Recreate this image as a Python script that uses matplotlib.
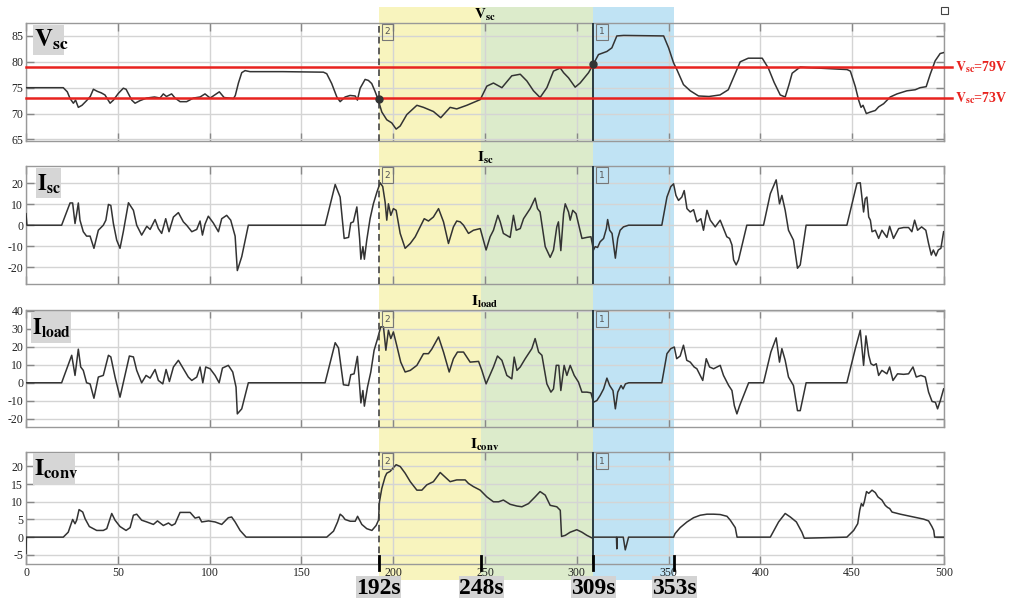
import numpy as np
import matplotlib
matplotlib.use('Agg')
import matplotlib.pyplot as plt
from matplotlib.patches import Rectangle
from matplotlib import transforms

plt.rcParams['font.family'] = ['Liberation Serif', 'DejaVu Serif']
plt.rcParams['mathtext.fontset'] = 'stix'
plt.rcParams['axes.unicode_minus'] = False

# ---------------- data (time in s) ----------------
vsc_t = [0, 20.3, 22.5, 24, 25.8, 27, 28.5, 30.5, 33, 35, 36.7, 38.8, 41, 43, 45.8, 47.6, 50.3, 53, 54.5,
         57.6, 59.4, 62.1, 65.7, 70, 73, 74.8, 76.5, 79.3, 81.2, 83.9, 87.5, 91.2, 94.8, 97.5, 100.3, 105.3,
         107.9, 113, 114, 115.7, 117.5, 119.3, 122, 140, 162, 163.8, 166.5, 169.3, 171.1, 173.8, 176.5,
         179.3, 180.5, 182, 184.7, 186.5, 188.3, 190.1, 191.6, 193.8, 196.5, 199.2, 201.6, 203.8, 207.4,
         212.9, 216.5, 221.9, 225.9, 231, 234.6, 240.1, 247.4, 251, 254.6, 259.2, 264.6, 269.2, 272.8,
         276.4, 280, 283.7, 287.3, 291, 292.8, 295.5, 299.1, 301.8, 306.4, 309.1, 311.8, 316.4, 319.1,
         321.8, 325.5, 347.3, 350, 352.7, 354.5, 358.1, 361.8, 366.3, 372, 378, 382.5, 386, 389, 393.4,
         401, 404.3, 407.5, 410.8, 413.5, 415.5, 417.3, 421.7, 425.4, 447.2, 449, 451.7, 453.5, 454.8,
         455.9, 457.7, 459.9, 462.6, 464.4, 467.1, 470.7, 474.4, 479.8, 484.3, 487, 490.3, 492.5, 495.2,
         497.9, 500]
vsc_v = [75.0, 75.0, 74.2, 72.9, 72.0, 72.6, 71.2, 71.6, 72.5, 73.3, 74.7, 74.3, 74.0, 73.6, 72.0, 72.6,
         73.9, 74.9, 74.7, 72.6, 72.0, 72.5, 73.0, 73.2, 73.0, 73.8, 73.3, 73.8, 73.0, 72.3, 72.3, 73.0,
         73.2, 73.8, 73.0, 74.2, 73.1, 72.9, 73.5, 75.9, 77.9, 78.3, 78.1, 78.1, 78.0, 77.7, 75.8, 73.2,
         72.3, 73.2, 73.5, 73.4, 72.6, 74.9, 76.6, 76.4, 75.8, 74.3, 72.9, 70.3, 68.8, 68.2, 67.0, 67.6,
         69.8, 71.6, 71.2, 70.4, 69.2, 71.2, 70.9, 71.6, 72.7, 75.3, 75.9, 75.0, 77.3, 77.6, 76.3, 74.4,
         73.1, 75.0, 78.2, 78.8, 77.9, 76.9, 75.1, 75.9, 77.9, 79.6, 81.4, 82.0, 82.7, 85.0, 85.1, 85.0,
         82.7, 79.8, 78.5, 75.6, 74.4, 73.4, 73.3, 73.6, 74.6, 77.5, 80.0, 80.7, 80.7, 78.8, 76.0, 73.6,
         73.2, 75.5, 77.8, 79.0, 78.9, 78.5, 78.2, 75.2, 72.6, 71.2, 71.6, 70.0, 70.3, 70.6, 71.3, 71.9,
         73.2, 73.8, 74.4, 74.6, 75.0, 75.2, 77.6, 80.2, 81.6, 81.8]

isc_t = [0, 0.5, 19.4, 24, 25.4, 26.7, 27.6, 28.5, 29.4, 31.2, 33, 34.9, 37, 39.4, 42.1, 43.5, 44.9, 46.2,
         47.6, 49.4, 51.2, 53, 55.8, 58.5, 60.3, 63, 65.8, 67.6, 70.3, 72.1, 73.9, 76.1, 77.9, 80.3, 83,
         85.7, 87.5, 90.3, 93, 94.8, 96.1, 97.5, 99.3, 102, 104.8, 106.6, 109.3, 111.5, 113.9, 115.1, 117.5,
         121.1, 162.9, 168.4, 171.1, 173.3, 175.7, 176.9, 178.3, 180.2, 181.7, 182.4, 183.5, 184.3, 185.6,
         187.4, 189.2, 191.1, 192.9, 194.3, 195.6, 196.5, 197.4, 198.7, 200.1, 201.6, 203.8, 206.5, 209.3,
         212, 214.7, 216.9, 219.2, 221.9, 224.7, 227.4, 230.1, 232.8, 234.6, 236.5, 238.3, 241, 243.7,
         247.4, 250.6, 252.8, 254.6, 257, 258.3, 260, 263.7, 265.5, 267, 269.2, 271, 274.6, 277.3, 278.6,
         280, 282.8, 285.5, 287.3, 289.1, 290, 291.3, 292.8, 293.7, 295.5, 296.4, 297.8, 299.6, 301.5,
         302.8, 305.5, 307.7, 309.1, 310, 311.3, 312.7, 314.6, 316.1, 316.8, 317.9, 319.2, 321, 322.3,
         323.6, 325.4, 328.2, 346.3, 349.1, 351.2, 352.7, 354, 355.4, 357.2, 358.5, 360, 361.8, 363.6,
         365.4, 367.6, 369, 370.9, 372.7, 375.4, 378.1, 379.9, 381.7, 383.2, 384.5, 385.4, 386.8, 388.1,
         392.6, 401.7, 405.4, 408.6, 410.4, 411.7, 413.5, 415.3, 418, 420.2, 421.7, 424.9, 447.1, 452.6,
         454.4, 456.2, 457.1, 458, 459, 459.9, 460.8, 462.6, 464.4, 466.2, 468.9, 470.4, 472.5, 475.3, 478,
         480.7, 482.5, 484, 485.6, 487.8, 490.1, 491.6, 493.1, 494.2, 495.6, 496.9, 498.3, 499.8]
isc_v = [5.5, 0, 0, 10.6, 10.6, 0.8, 5.5, 10.6, 2.4, -3.1, -5.2, -5.2, -11, -2.4, 0, 2.4, 9.9, 9.4, 0.8,
         -7.1, -11, -3.1, 10.7, 7.1, 0, -4.7, -0.5, -2.0, 2.7, -1.6, -3.9, 3.1, -3.1, 3.9, 6.0, 1.6, 0,
         -3.1, -2.0, 2.0, -4.7, 0.5, 4.3, 1.1, -3.1, 3.1, 4.7, 2.4, -5.2, -21.6, -15.0, 0, 0, 19.4, 13.4,
         -6.3, -5.8, 1.1, 1.6, 8.7, -6.3, -16.2, -10.2, -16.2, -7.1, 3.1, 10.2, 15.7, 20.2, 18.4, 11,
         2.4, 10.2, 4.7, 7.9, 7.1, -3.9, -11, -8.7, -5.5, -0.8, 3.1, 2.0, 3.9, 7.9, 1.6, -8.7, -0.8, 2.0,
         1.6, 0, -3.9, -2.4, -1.6, -11.8, -5.5, -2.4, 4.7, 1.6, -3.9, -5.8, 4.7, -2.4, -1.6, 3.1, 7.9,
         12.9, 7.9, 6.3, -10.2, -15.3, -11.8, -0.8, 1.6, -12.1, 5.5, 10.2, 6.3, 2.4, 7.1, 5.5, -1.6, -6.3,
         -5.8, -5.5, -11.8, -10.2, -10.6, -7.9, -6.3, -1.6, 2.7, -2.4, -3.9, -15.7, -6.3, -2.4, -0.8, 0, 0,
         13.4, 18.4, 19.7, 14.2, 11.8, 13.4, 16.5, 7.9, 6.3, 7.4, 1.6, 3.1, -2.4, 7.1, 2.4, -0.8, 2.4,
         -1.6, -5.5, -6.3, -9.4, -16.5, -18.9, -16.5, 0, 0, 15, 21.6, 10.2, 14.2, 7.1, -2.4, -7.1, -20.5,
         -18.9, 0, 0, 20, 20.2, 6.3, 12.6, 13.4, 3.9, 2.4, -3.1, -2.4, -6.3, -2.4, -5.8, -0.5, -6.3, -1.6,
         -1.1, -1.1, -3.1, 2.4, -2.4, -0.8, -2.4, -8.7, -14.2, -11.8, -14.6, -11.8, -11, -3.1]

iload_t = [0, 19.4, 24.9, 26.7, 28.5, 29.8, 31.2, 33, 34.9, 37, 39.4, 42.1, 44.9, 46.2, 48.5, 51.2, 53.9,
           56.3, 58.5, 60.3, 63, 65.4, 67.6, 70.3, 72.1, 74.5, 76.3, 78.1, 80.3, 83, 85.7, 88.4, 90.3, 93,
           94.8, 96.3, 97.9, 100.3, 103, 105.2, 107, 110.2, 112.6, 114.4, 115.1, 117.5, 121.1, 162.9, 168.4,
           170.2, 172.9, 175.7, 176.9, 178.7, 180.5, 181.7, 182.4, 183.5, 184.3, 186, 187.8, 189.6, 191.5,
           193.2, 194.7, 196, 197.4, 198.7, 200.1, 201.9, 204.1, 206.5, 209.3, 212.9, 216.5, 219.2, 221,
           224.7, 227.4, 230.5, 232.8, 235, 238.3, 241.9, 246.5, 248.3, 250.6, 252.8, 254.6, 256.8, 259.2,
           261.9, 264.6, 265.9, 267.4, 269.2, 271.9, 275.5, 277.3, 279.2, 281, 283.7, 285.9, 287.3, 288.8,
           290.2, 291.3, 293.1, 294.6, 296.4, 298.6, 300.9, 302.8, 305.5, 307.7, 309.1, 310.9, 312.7, 314.6,
           316.4, 317.9, 319.7, 321, 322.3, 324.1, 325.2, 326.5, 328.3, 346.3, 349.1, 351.2, 353.1, 354.4,
           356.3, 358.1, 359.9, 361.8, 363.9, 365.4, 367.2, 368.6, 370.5, 372.3, 374.5, 378.1, 379.9, 382.7,
           384.5, 385.8, 387.2, 388.7, 393.6, 401.7, 405.7, 408.6, 410.4, 411.7, 413.5, 415.3, 418, 420.2,
           421.7, 424.9, 447.1, 451.7, 454.4, 456.2, 457.5, 459, 460.2, 461.7, 463.1, 464.4, 466.2, 468.9,
           470.4, 472.2, 474.7, 478, 480.7, 483.1, 484.9, 487.4, 489.8, 491.6, 493.5, 495.3, 496.5, 498,
           499.8]
iload_v = [0, 0, 15.3, 4.1, 18.7, 8.8, 6.9, 0, -0.6, -8.6, 3.2, 4.1, 15.3, 14.4, 3.2, -8.0, 4.1, 14.9,
           14.4, 6.9, 0, 4.1, 2.6, 7.4, 1.3, -0.6, 7.4, 0.7, 8.8, 12.5, 7.8, 3.2, 1.3, 3.2, 8.8, 0, 8.8,
           7.8, 4.1, 0, 8.2, 9.7, 6, -2.4, -17.3, -14.5, 0, 0, 22.3, 19.4, -1.1, -1.5, 4.5, 5, 14.7, -1.5,
           -11.2, -4.3, -13, -2.4, 6, 18.1, 24.6, 31.1, 31.1, 18.1, 29.2, 24.6, 28.3, 20.9, 11.5, 6, 6.9,
           9.7, 16.2, 16.2, 18.7, 25.5, 17.1, 6, 13.4, 17.1, 17.1, 11.5, 11.9, 6.9, -0.6, 4.5, 8.8, 14.9,
           12.5, 4.1, 2.2, 14.3, 6.9, 8.8, 13.4, 19, 24.6, 17.1, 15.3, -0.6, -5.2, -3.4, 9.7, 9.7, -4.3,
           9.7, 4.1, 9.7, 4.1, 0.4, -5.2, -5.2, -5.6, -10.8, -9.9, -7.1, -3.4, 2.6, -1.5, -4.3, -14.5, -5.2,
           -1.5, -3.4, -0.6, 0, 0, 16.2, 19, 19.9, 13.4, 14.9, 20.9, 12.5, 11.5, 8.8, 7.8, 4.1, 1.3, 13.4,
           8.8, 7.8, 9.7, 4.1, -1.5, -4.3, -12.7, -17.3, -12.7, 0, 0, 17.1, 25, 11.5, 19, 12.5, 3.2, -1.5,
           -15.5, -15.5, 0, 0, 19, 29.2, 9.7, 26.1, 15.3, 10.6, 9.7, 10.6, 4.1, 6.9, 5, 8.8, 1.3, 5, 4.7, 5,
           8.8, 3.2, 4.1, 3.2, -5.2, -10.4, -10.8, -14.5, -9.9, -3.4]

iconv_t = [0, 0.2, 20.3, 23, 25.4, 26.7, 27.6, 28.9, 30.9, 32.2, 34.5, 38.5, 42.1, 44, 46.7, 48.5, 51.2,
           54.5, 56.7, 58.5, 60.3, 63, 65.8, 69.4, 71.6, 74.8, 77.6, 79.4, 81.2, 83.9, 89.4, 92.1, 94.3,
           95.7, 99.4, 103, 106.6, 110.2, 112, 113.9, 116.6, 119.9, 163.8, 167.5, 169.7, 171.1, 172.5, 173.8,
           176.6, 179.3, 180.6, 182.9, 185.6, 188.4, 190.7, 192, 192.5, 193.8, 195.6, 196.5, 198.3, 199.8,
           201.6, 203.8, 206.5, 209.3, 212.9, 215.6, 218.3, 221.9, 225.6, 228.3, 231, 234.6, 239.2, 241,
           243.7, 247.4, 251, 254.6, 257.4, 260, 263.7, 267.4, 270.1, 273.7, 277.3, 280, 282.8, 285.5,
           289.1, 291, 291.7, 293.7, 296.4, 300, 302.8, 305.5, 308.2, 309.5, 321.6, 321.8, 322.0, 325.3,
           326.4, 328.2, 352.7, 353.5, 356.3, 360, 363.6, 367.2, 370.9, 374.5, 378.1, 381.8, 383.6, 386.3,
           387.3, 405.4, 409.9, 413.5, 416.3, 419.6, 422.6, 423.9, 447.1, 450.8, 453, 454.1, 455, 455.9,
           456.6, 457.8, 459, 460.8, 462.6, 464, 466.2, 468, 469.3, 470.4, 471.7, 476.2, 481.7, 485.3,
           488.9, 491.6, 493.4, 494.4, 494.9, 500]
iconv_v = [-4.6, 0, 0, 1.4, 5, 3.8, 4.8, 7.8, 7.1, 5.2, 3.0, 1.9, 1.9, 2.4, 6.7, 4.8, 3.0, 1.9, 2.7, 6.2,
           6.5, 4.8, 4.3, 3.6, 4.6, 3.3, 4.0, 3.3, 3.8, 7.0, 7.0, 5.4, 5.7, 4.3, 4.6, 4.3, 3.6, 5.5, 5.7,
           4.3, 1.9, 0, 0, 1.7, 4.3, 6.5, 5.9, 5.0, 4.5, 4.5, 5.9, 3.6, 2.4, 1.9, 3.3, 4.8, 10, 13.8, 17.1,
           18.1, 18.6, 19.5, 20.5, 20.0, 18.1, 15.7, 13.3, 13.3, 14.8, 15.7, 18.3, 17.0, 15.7, 16.2, 16.2,
           15.2, 14.3, 13.3, 11.4, 10.0, 10.0, 10.5, 9.3, 8.8, 8.6, 9.5, 11.4, 12.9, 11.9, 9.0, 8.6, 7.6,
           0.2, 0.5, 1.4, 2.1, 1.4, 0.5, -0.2, 0, 0, -3.3, 0, 0, -3.6, 0, 0, 1.0, 2.7, 4.3, 5.5, 6.2, 6.5,
           6.5, 6.4, 5.9, 4.8, 2.7, 0, 0, 4.3, 6.7, 5.7, 4.3, 1.4, -0.3, 0, 1.9, 3.8, 7.6, 9.5, 8.8, 10,
           12.9, 12.4, 13.3, 12.6, 11.4, 10.5, 9.0, 8.4, 8.1, 7.1, 6.5, 5.9, 5.5, 5.1, 4.6, 3.0, 1.9, 0, 0]

phase_edges = [192, 248, 309, 353]
phase_labels = ['192s', '248s', '309s', '353s']
phase_colors = ['#F8F4BE', '#DCEBCB', '#C0E3F4']
vsc_limits = [79, 73]
switch_points_t = [192, 309]
switch_points_v = [72.9, 79.6]

panel_titles = [r'$\mathbf{V}_{\mathbf{sc}}$', r'$\mathbf{I}_{\mathbf{sc}}$',
                r'$\mathbf{I}_{\mathbf{load}}$', r'$\mathbf{I}_{\mathbf{conv}}$']
panel_yticks = [[65, 70, 75, 80, 85], [-20, -10, 0, 10, 20],
                [-20, -10, 0, 10, 20, 30, 40], [-5, 0, 5, 10, 15, 20]]
panel_ylims = [(64.7, 87.5), (-28, 28.2), (-24.6, 40.5), (-7.6, 24.1)]

# ---------------- figure ----------------
W, H = 1010, 604
fig = plt.figure(figsize=(W / 100, H / 100), dpi=100)

def rect(top, bottom, left=26, right=944):
    return [left / W, 1 - bottom / H, (right - left) / W, (bottom - top) / H]

pix = [(23, 141), (166, 284), (310, 427), (452, 564)]
axes = [fig.add_axes(rect(a, b)) for a, b in pix]
series = [(vsc_t, vsc_v), (isc_t, isc_v), (iload_t, iload_v), (iconv_t, iconv_v)]

curve_c = '#333333'
for i, ax in enumerate(axes):
    ax.set_facecolor('none')
    ax.set_xlim(0, 500)
    ax.set_ylim(*panel_ylims[i])
    ax.set_xticks(np.arange(0, 501, 50))
    ax.set_yticks(panel_yticks[i])
    ax.grid(True, color='#d4d4d4', lw=1.0)
    ax.set_axisbelow(True)
    ax.tick_params(direction='in', length=6, width=1, color='#888', top=True, right=True,
                   labelsize=8.5, labelcolor='#222', pad=2)
    for s in ax.spines.values():
        s.set_color('#999')
        s.set_linewidth(1.0)
    if i < 3:
        ax.tick_params(labelbottom=False)
    t, v = series[i]
    ax.plot(t, v, color=curve_c, lw=1.1, zorder=3)
    ax.set_title(panel_titles[i], fontsize=11, pad=2)
    ax.axvline(phase_edges[0], color='#444', lw=1.2, ls=(0, (4, 2.5)), zorder=4)
    ax.axvline(phase_edges[2], color='#2b3a40', lw=1.4, zorder=4)
    for xv, lab in [(phase_edges[0], '2'), (phase_edges[2], '1')]:
        ax.annotate(lab, xy=(xv, 1), xycoords=ax.get_xaxis_transform(), xytext=(9, -9),
                    textcoords='offset pixels', ha='center', va='center', fontsize=6.5,
                    family='DejaVu Sans', color='#555',
                    bbox=dict(boxstyle='square,pad=0.35', fc='none', ec='#777', lw=0.8))

# red limit lines on Vsc
ax1 = axes[0]
ytr = ax1.get_yaxis_transform()
for lvl in vsc_limits:
    ax1.plot([0, 1.0087], [lvl, lvl], color='#E8231F', lw=1.8, transform=ytr, clip_on=False, zorder=5)
    ax1.text(1.0125, lvl, r'$\mathbf{V}_{\mathbf{sc}}$' + '=%dV' % lvl, transform=ytr,
             color='#E8231F', fontsize=10, fontweight='bold', va='center', ha='left')
ax1.plot(switch_points_t, switch_points_v, 'o', color='#333', ms=5, zorder=6)

# phase shading across all panels
blend = transforms.blended_transform_factory(axes[3].transData, fig.transFigure)
for (x0, x1), c in zip(zip(phase_edges[:-1], phase_edges[1:]), phase_colors):
    fig.add_artist(Rectangle((x0, 1 - 580 / H), x1 - x0, (580 - 7) / H, transform=blend,
                             fc=c, ec='none', zorder=-1))

# bottom markers and labels
ax4 = axes[3]
px_per_s = (944 - 26) / 500
for xv, lab in zip(phase_edges, phase_labels):
    ax4.plot([xv, xv], [-0.054, 0.071], transform=ax4.get_xaxis_transform(), color='k', lw=2,
             clip_on=False, zorder=6)
    hw = 22.5 / px_per_s
    fig.add_artist(Rectangle((xv - hw, 1 - 598 / H), 2 * hw, 22 / H, transform=blend,
                             fc='#D3D3D3', ec='none', zorder=9))
    fig.text(xv, 1 - 588 / H, lab, transform=blend, ha='center', va='center', fontsize=17,
             fontweight='bold', zorder=10)

# panel name boxes (pixel boxes: left, top, right, bottom)
names = [(r'$\mathbf{V}_{\mathbf{sc}}$', (33, 25, 64, 55), 18),
         (r'$\mathbf{I}_{\mathbf{sc}}$', (36, 168, 61, 198), 16),
         (r'$\mathbf{I}_{\mathbf{load}}$', (31, 312, 71, 343), 16),
         (r'$\mathbf{I}_{\mathbf{conv}}$', (33, 453, 75, 485), 17)]
for s, (l, tp, r, b), fs in names:
    fig.add_artist(Rectangle((l / W, 1 - b / H), (r - l) / W, (b - tp) / H, fc='#D6D6D6',
                             ec='none', zorder=9))
    fig.text((l + 1) / W, 1 - (tp + b) / 2 / H, s, ha='left', va='center', fontsize=fs, zorder=10)

# small icon top-right
fig.add_artist(Rectangle((941 / W, 1 - 14 / H), 7 / W, 7 / H, fc='white', ec='#444', lw=0.8))

fig.savefig('out.png', dpi=100)
